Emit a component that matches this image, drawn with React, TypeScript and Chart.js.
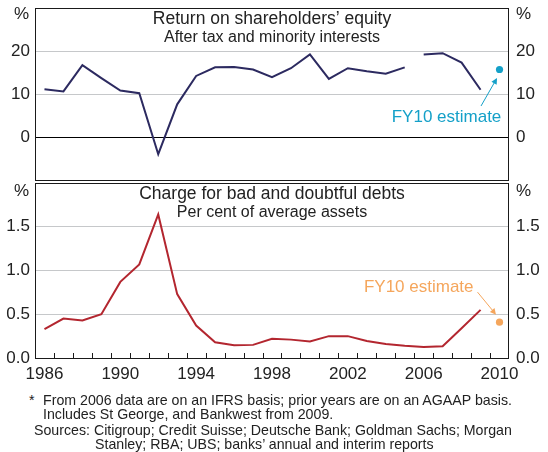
import React, { useEffect, useRef } from "react";
import { Chart, registerables } from "chart.js";

Chart.register(...registerables);

const years = [
  "1986", "1987", "1988", "1989", "1990", "1991", "1992", "1993", "1994", "1995",
  "1996", "1997", "1998", "1999", "2000", "2001", "2002", "2003", "2004", "2005",
  "2006", "2007", "2008", "2009", "2010",
];

// Return on shareholders' equity, % (AGAAP basis, to 2005)
const roeAgaap = [
  11.1, 10.6, 16.7, 13.7, 10.8, 10.2, -4.0, 7.6, 14.2, 16.2,
  16.3, 15.7, 13.9, 16.0, 19.2, 13.5, 16.0, 15.3, 14.7, 16.2,
  null, null, null, null, null,
];
// IFRS basis, from 2006
const roeIfrs = [
  null, null, null, null, null, null, null, null, null, null,
  null, null, null, null, null, null, null, null, null, null,
  19.2, 19.5, 17.3, 11.0, null,
];
const roeEstimate = [
  null, null, null, null, null, null, null, null, null, null,
  null, null, null, null, null, null, null, null, null, null,
  null, null, null, null, 15.7,
];

// Charge for bad and doubtful debts, % of average assets
const badDebts = [
  0.33, 0.45, 0.43, 0.5, 0.87, 1.07, 1.64, 0.73, 0.37, 0.18,
  0.145, 0.15, 0.22, 0.21, 0.19, 0.25, 0.25, 0.195, 0.16, 0.14,
  0.125, 0.135, 0.34, 0.55, null,
];
const badEstimate = [
  null, null, null, null, null, null, null, null, null, null,
  null, null, null, null, null, null, null, null, null, null,
  null, null, null, null, 0.41,
];

const topTicks = [0, 10, 20];
const bottomTicks = [0, 0.5, 1, 1.5];

const FONT = '"Liberation Sans", Arial, Helvetica, sans-serif';
const TEXT = "#222222";
const GRID = "#c6c8ca";
const NAVY = "#2c2a60";
const RED = "#b3262f";
const CYAN = "#14a0c8";
const ORANGE = "#f5a65c";

function drawArrow(ctx: CanvasRenderingContext2D, x1: number, y1: number, x2: number, y2: number, color: string) {
  const ang = Math.atan2(y2 - y1, x2 - x1);
  const len = 6;
  const w = 3;
  ctx.save();
  ctx.strokeStyle = color;
  ctx.fillStyle = color;
  ctx.lineWidth = 1;
  ctx.beginPath();
  ctx.moveTo(x1, y1);
  ctx.lineTo(x2 - Math.cos(ang) * len * 0.8, y2 - Math.sin(ang) * len * 0.8);
  ctx.stroke();
  ctx.beginPath();
  ctx.moveTo(x2, y2);
  ctx.lineTo(x2 - Math.cos(ang) * len - Math.sin(ang) * w, y2 - Math.sin(ang) * len + Math.cos(ang) * w);
  ctx.lineTo(x2 - Math.cos(ang) * len + Math.sin(ang) * w, y2 - Math.sin(ang) * len - Math.cos(ang) * w);
  ctx.closePath();
  ctx.fill();
  ctx.restore();
}

function panelPlugin(title: string, subtitle: string, pctOffset: number, bottomTickMarks: boolean, annotate: (chart: any) => void) {
  return {
    id: "panel-" + title.length,
    afterDraw(chart: any) {
      const { ctx, chartArea } = chart;
      const { left, right, top, bottom } = chartArea;
      ctx.save();
      // frame
      ctx.strokeStyle = "#1a1a1a";
      ctx.lineWidth = 1;
      ctx.strokeRect(Math.round(left) + 0.5, Math.round(top) + 0.5, Math.round(right - left) - 1, Math.round(bottom - top));
      // tick marks
      if (bottomTickMarks) {
        const xs = chart.scales.x;
        ctx.beginPath();
        for (let i = 0; i < years.length - 1; i++) {
          const x = Math.round((xs.getPixelForValue(i) + xs.getPixelForValue(i + 1)) / 2) + 0.5;
          ctx.moveTo(x, bottom);
          ctx.lineTo(x, bottom - 5);
        }
        ctx.stroke();
      }
      // titles
      const cx = (left + right) / 2;
      ctx.fillStyle = TEXT;
      ctx.textAlign = "center";
      ctx.textBaseline = "middle";
      ctx.font = "17.5px " + FONT;
      ctx.fillText(title, cx, top + 11);
      ctx.font = "16px " + FONT;
      ctx.fillText(subtitle, cx, top + 29.5);
      // % labels
      ctx.font = "17px " + FONT;
      ctx.textAlign = "right";
      ctx.fillText("%", left - 6, top + pctOffset);
      ctx.textAlign = "left";
      ctx.fillText("%", right + 7, top + pctOffset);
      ctx.restore();
      annotate(chart);
    },
  };
}

function yScale(pos: "left" | "right", min: number, max: number, step: number, shown: number[], fmt: (v: number) => string, gridColor: (v: number) => string) {
  return {
    position: pos,
    min,
    max,
    ticks: {
      stepSize: step,
      padding: pos === "left" ? 5 : 7,
      color: TEXT,
      font: { family: FONT, size: 17 },
      callback: (v: any) => (shown.some((s) => Math.abs(s - Number(v)) < 1e-9) ? fmt(Number(v)) : ""),
    },
    grid: {
      display: pos === "left",
      drawTicks: false,
      lineWidth: 1,
      color: (c: any) => gridColor(c.tick ? c.tick.value : NaN),
    },
    border: { display: false },
    afterFit: (s: any) => {
      s.width = pos === "left" ? 35 : 39;
      s.paddingTop = 0;
      s.paddingBottom = 0;
    },
  };
}

export default function App() {
  const topRef = useRef<HTMLCanvasElement>(null);
  const botRef = useRef<HTMLCanvasElement>(null);

  useEffect(() => {
    const top = new Chart(topRef.current as HTMLCanvasElement, {
      type: "line",
      data: {
        labels: years,
        datasets: [
          { data: roeAgaap, borderColor: NAVY, borderWidth: 2, pointRadius: 0, spanGaps: false, yAxisID: "y" },
          { data: roeIfrs, borderColor: NAVY, borderWidth: 2, pointRadius: 0, spanGaps: false, yAxisID: "y" },
          { data: roeEstimate, showLine: false, pointRadius: 3.6, pointBorderWidth: 0, pointBackgroundColor: CYAN, borderColor: CYAN, yAxisID: "y" },
        ],
      },
      options: {
        animation: false,
        responsive: false,
        events: [],
        layout: { padding: { top: 8, bottom: 1, left: 0, right: 0 } },
        plugins: { legend: { display: false }, tooltip: { enabled: false }, title: { display: false } },
        scales: {
          x: {
            type: "category",
            offset: true,
            display: false,
            afterFit: (s: any) => {
              s.paddingLeft = 0;
              s.paddingRight = 0;
            },
          },
          y: yScale("left", -10, 30, 10, topTicks, (v) => String(v), (v) =>
            v === 0 ? "#000000" : v === 10 || v === 20 ? GRID : "rgba(0,0,0,0)"),
          y2: yScale("right", -10, 30, 10, topTicks, (v) => String(v), () => "rgba(0,0,0,0)"),
        } as any,
      },
      plugins: [
        panelPlugin("Return on shareholders\u2019 equity", "After tax and minority interests", 6, false, (chart: any) => {
          const { ctx } = chart;
          const px = chart.scales.x.getPixelForValue(24);
          const py = chart.scales.y.getPixelForValue(roeEstimate[24] as number);
          ctx.save();
          ctx.fillStyle = CYAN;
          ctx.font = "17px " + FONT;
          ctx.textAlign = "center";
          ctx.textBaseline = "middle";
          ctx.fillText("FY10 estimate", px - 53, py + 48);
          ctx.restore();
          drawArrow(ctx, px - 18.5, py + 36.5, px - 2.5, py + 8.5, CYAN);
        }),
      ],
    } as any);

    const bot = new Chart(botRef.current as HTMLCanvasElement, {
      type: "line",
      data: {
        labels: years,
        datasets: [
          { data: badDebts, borderColor: RED, borderWidth: 2, pointRadius: 0, spanGaps: false, yAxisID: "y" },
          { data: badEstimate, showLine: false, pointRadius: 3.6, pointBorderWidth: 0, pointBackgroundColor: ORANGE, borderColor: ORANGE, yAxisID: "y" },
        ],
      },
      options: {
        animation: false,
        responsive: false,
        events: [],
        layout: { padding: { top: 7, bottom: 0, left: 0, right: 0 } },
        plugins: { legend: { display: false }, tooltip: { enabled: false }, title: { display: false } },
        scales: {
          x: {
            type: "category",
            offset: true,
            grid: { display: false, drawTicks: false },
            border: { display: false },
            ticks: {
              autoSkip: false,
              maxRotation: 0,
              minRotation: 0,
              padding: 6,
              color: TEXT,
              font: { family: FONT, size: 17 },
              callback: (_v: any, i: number) => (i % 4 === 0 ? years[i] : ""),
            },
            afterFit: (s: any) => {
              s.height = 30;
              s.paddingLeft = 0;
              s.paddingRight = 0;
            },
          },
          y: yScale("left", 0, 2, 0.5, bottomTicks, (v) => v.toFixed(1), (v) =>
            Math.abs(v - 0.5) < 1e-9 || Math.abs(v - 1) < 1e-9 || Math.abs(v - 1.5) < 1e-9 ? GRID : "rgba(0,0,0,0)"),
          y2: yScale("right", 0, 2, 0.5, bottomTicks, (v) => v.toFixed(1), () => "rgba(0,0,0,0)"),
        } as any,
      },
      plugins: [
        panelPlugin("Charge for bad and doubtful debts", "Per cent of average assets", 8.7, true, (chart: any) => {
          const { ctx } = chart;
          const px = chart.scales.x.getPixelForValue(24);
          const py = chart.scales.y.getPixelForValue(badEstimate[24] as number);
          ctx.save();
          ctx.fillStyle = ORANGE;
          ctx.font = "17px " + FONT;
          ctx.textAlign = "right";
          ctx.textBaseline = "middle";
          ctx.fillText("FY10 estimate", px - 26, py - 35);
          ctx.restore();
          drawArrow(ctx, px - 22, py - 30, px - 3.5, py - 7.5, ORANGE);
        }),
      ],
    } as any);

    return () => {
      top.destroy();
      bot.destroy();
    };
  }, []);

  const note: React.CSSProperties = {
    position: "absolute",
    fontFamily: FONT,
    fontSize: 14.2,
    lineHeight: "16px",
    color: TEXT,
    whiteSpace: "nowrap",
  };

  return (
    <div style={{ position: "absolute", left: 0, top: 0, width: 548, height: 452, background: "#ffffff", overflow: "hidden" }}>
      <canvas ref={topRef} width={548} height={184} style={{ position: "absolute", left: 0, top: 0, width: 548, height: 184 }} />
      <canvas ref={botRef} width={548} height={212} style={{ position: "absolute", left: 0, top: 176, width: 548, height: 212 }} />
      <div style={{ ...note, left: 29, top: 392 }}>*</div>
      <div style={{ ...note, left: 43, top: 392 }}>From 2006 data are on an IFRS basis; prior years are on an AGAAP basis.</div>
      <div style={{ ...note, left: 43, top: 406 }}>Includes St George, and Bankwest from 2009.</div>
      <div style={{ ...note, left: 34, top: 422 }}>Sources: Citigroup; Credit Suisse; Deutsche Bank; Goldman Sachs; Morgan</div>
      <div style={{ ...note, left: 95, top: 436 }}>Stanley; RBA; UBS; banks’ annual and interim reports</div>
    </div>
  );
}
